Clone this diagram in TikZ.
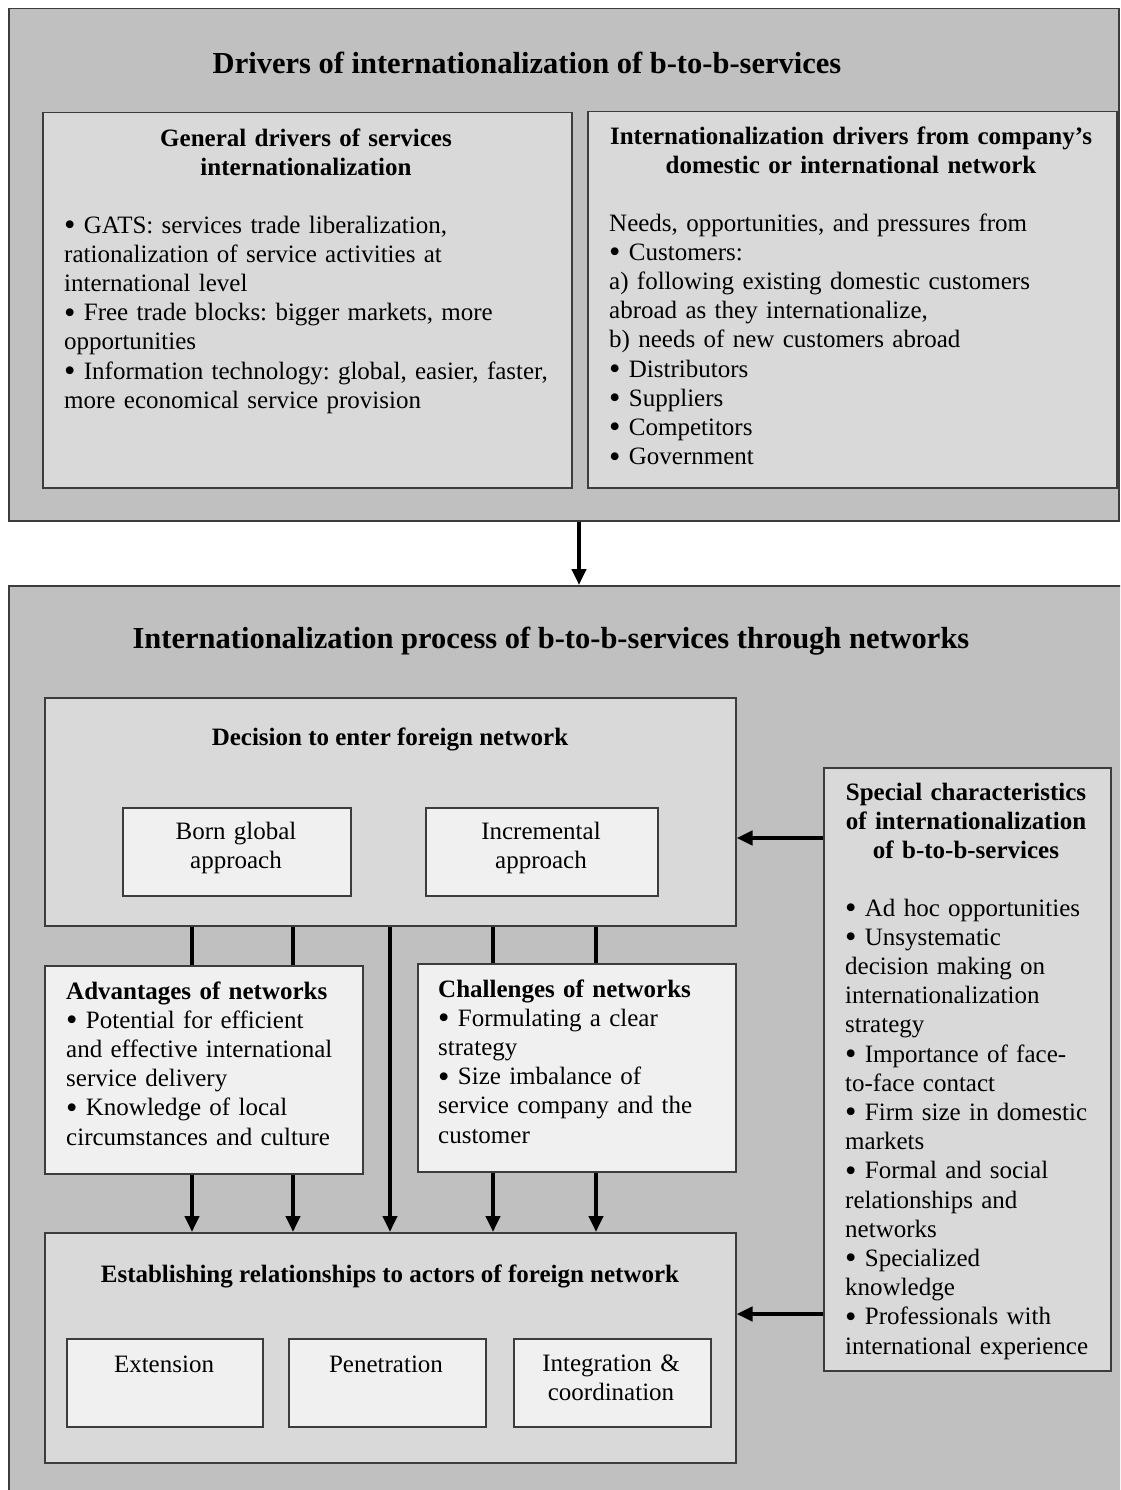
\documentclass[tikz,border=0pt]{standalone}
\usepackage{fontspec}
\usepackage{graphicx}
\setmainfont{Liberation Serif}
\usetikzlibrary{arrows.meta,positioning}
\frenchspacing

\definecolor{outergray}{HTML}{C0C0C0}
\definecolor{midgray}{HTML}{D9D9D9}
\definecolor{boxlight}{HTML}{F0F0F0}
\definecolor{boxline}{HTML}{3C3C3C}
\newcommand\bul{\smash{\raisebox{-0.1em}{\scalebox{1.3}{•}}}}

\tikzset{
  panel/.style={draw=boxline,line width=1.5pt,inner sep=0pt,anchor=north west},
  outerbox/.style={panel,fill=outergray},
  midbox/.style={panel,fill=midgray},
  lightbox/.style={panel,fill=boxlight},
  bodytext/.style={font=\fontsize{25}{29.2}\selectfont,inner sep=0pt,align=left,anchor=base west},
  boxtext/.style={font=\fontsize{25}{29.5}\selectfont,inner sep=0pt,align=center,anchor=base,text width=220},
  headtext/.style={font=\bfseries\fontsize{25}{29}\selectfont,inner sep=0pt,align=center,anchor=base},
  bigtitle/.style={font=\bfseries\fontsize{30.5}{34}\selectfont,inner sep=0pt,anchor=base},
  conn/.style={line width=4pt},
  arr/.style={conn,-{Triangle[length=16pt,width=14pt]}},
}

\begin{document}
\begin{tikzpicture}[x=1pt,y=-1pt]
\useasboundingbox (0,0) rectangle (1120,1490);
\clip (0,0) rectangle (1120,1490);
\fill[white] (0,0) rectangle (1120,1490);

% drivers
\node[outerbox,minimum width=1110,minimum height=512] (drivers) at (8,8) {};
\node[bigtitle] (driverstitle) at (527,74) {Drivers of internationalization of b-to-b-services};
\node[midbox,minimum width=529,minimum height=375] (general) at (42,112) {};
\node[midbox,minimum width=529,minimum height=376] (network) at (587,111) {};
\node[headtext,text width=500] (generalhead) at (306,147) {General drivers of services\\internationalization};
\node[bodytext,text width=500] (generalbody) at (64,233) {\bul{} GATS: services trade liberalization,\\rationalization of service activities at\\international level\\\bul{} Free trade blocks: bigger markets, more\\opportunities\\\bul{} Information technology: global, easier, faster,\\more economical service provision};
\node[headtext,text width=520] (networkhead) at (851,145) {Internationalization drivers from company’s\\domestic or international network};
\node[bodytext,text width=500] (networkbody) at (609,231) {Needs, opportunities, and pressures from\\\bul{} Customers:\\a) following existing domestic customers\\abroad as they internationalize,\\b) needs of new customers abroad\\\bul{} Distributors\\\bul{} Suppliers\\\bul{} Competitors\\\bul{} Government};

% process
\node[outerbox,minimum width=1130,minimum height=920] (process) at (8,585) {};
\node[bigtitle] (processtitle) at (551,648) {Internationalization process of b-to-b-services through networks};

\node[midbox,minimum width=691,minimum height=228] (dec) at (44,697) {};
\node[headtext] (dectitle) at (390,745) {Decision to enter foreign network};
\node[lightbox,minimum width=228,minimum height=88] (born) at (122,807) {};
\node[lightbox,minimum width=232,minimum height=88] (incr) at (425,807) {};
\node[boxtext] (borntext) at (236,839) {Born global\\approach};
\node[boxtext] (incrtext) at (541,839) {Incremental\\approach};

\node[midbox,minimum width=287,minimum height=603] (spec) at (823,767) {};
\node[headtext,text width=280] (spechead) at (966,800) {Special characteristics\\of internationalization\\of b-to-b-services};
\node[bodytext,text width=270] (specbody) at (845,916) {\bul{} Ad hoc opportunities\\\bul{} Unsystematic\\decision making on\\internationalization\\strategy\\\bul{} Importance of face-\\to-face contact\\\bul{} Firm size in domestic\\markets\\\bul{} Formal and social\\relationships and\\networks\\\bul{} Specialized\\knowledge\\\bul{} Professionals with\\international experience};

\node[lightbox,minimum width=318,minimum height=208] (adv) at (44,965) {};
\node[bodytext,text width=300] (advtext) at (66,999) {{\bfseries\fontsize{25}{29}\selectfont Advantages of networks}\\\bul{} Potential for efficient\\and effective international\\service delivery\\\bul{} Knowledge of local\\circumstances and culture};
\node[lightbox,minimum width=318,minimum height=208] (chal) at (417,963) {};
\node[bodytext,text width=300] (chaltext) at (438,997) {{\bfseries\fontsize{25}{29}\selectfont Challenges of networks}\\\bul{} Formulating a clear\\strategy\\\bul{} Size imbalance of\\service company and the\\customer};

\node[midbox,minimum width=691,minimum height=230] (est) at (44,1232) {};
\node[headtext] (esttitle) at (390,1282) {Establishing relationships to actors of foreign network};
\node[lightbox,minimum width=196,minimum height=88] (ext) at (66,1338) {};
\node[lightbox,minimum width=197,minimum height=88] (pen) at (288,1338) {};
\node[lightbox,minimum width=197,minimum height=88] (integ) at (513,1338) {};
\node[boxtext] (exttext) at (164,1372) {Extension};
\node[boxtext] (pentext) at (386,1372) {Penetration};
\node[boxtext] (integtext) at (611,1371) {Integration \&\\coordination};

% connectors
\draw[arr] (drivers.south -| 579,0) -- (process.north -| 579,0);
\foreach \x in {192,293}
  \draw[conn] (\x,0 |- dec.south) -- (\x,0 |- adv.north);
\foreach \x in {493,596}
  \draw[conn] (\x,0 |- dec.south) -- (\x,0 |- chal.north);
\foreach \x in {192,293}
  \draw[arr] (\x,0 |- adv.south) -- (\x,0 |- est.north);
\foreach \x in {493,596}
  \draw[arr] (\x,0 |- chal.south) -- (\x,0 |- est.north);
\draw[arr] (390,0 |- dec.south) -- (390,0 |- est.north);
\draw[arr] (spec.west |- 0,838) -- (dec.east |- 0,838);
\draw[arr] (spec.west |- 0,1314) -- (est.east |- 0,1314);
\end{tikzpicture}
\end{document}
